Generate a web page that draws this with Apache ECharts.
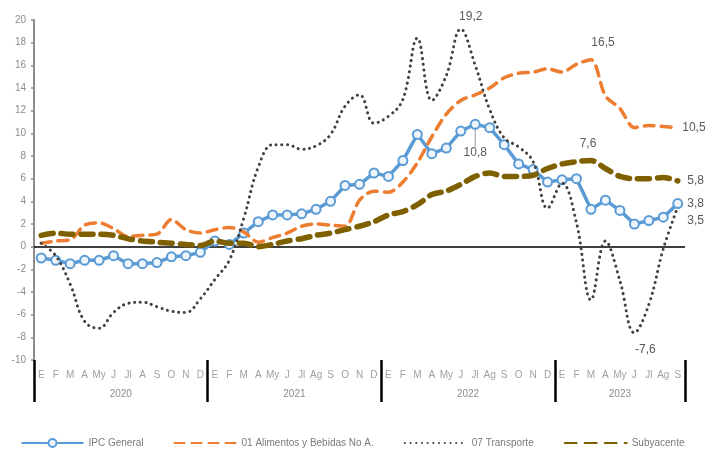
<!DOCTYPE html>
<html>
<head>
<meta charset="utf-8">
<title>IPC</title>
<script src="https://cdn.jsdelivr.net/npm/echarts@6/dist/echarts.min.js"></script>
<style>
  html, body { margin: 0; padding: 0; background: #fff; }
  #chart { width: 705px; height: 450px; }
</style>
</head>
<body>
<div id="chart"></div>
<script>
// meses por año (2020 usa "A" para agosto)
const months = [
  'E', 'F', 'M', 'A', 'My', 'J', 'Jl', 'A', 'S', 'O', 'N', 'D',
  'E', 'F', 'M', 'A', 'My', 'J', 'Jl', 'Ag', 'S', 'O', 'N', 'D',
  'E', 'F', 'M', 'A', 'My', 'J', 'Jl', 'Ag', 'S', 'O', 'N', 'D',
  'E', 'F', 'M', 'A', 'My', 'J', 'Jl', 'Ag', 'S'
]
const years = ['2020', '2021', '2022', '2023']
const monthsPerYear = [12, 12, 12, 9]

const yTicks = [-10, 20, 2] // min, max, intervalo

const ipcGeneral = [
  -1.0, -1.2, -1.5, -1.2, -1.2, -0.8, -1.5, -1.5, -1.4, -0.9, -0.8, -0.5,
  0.5, 0.2, 1.2, 2.2, 2.8, 2.8, 2.9, 3.3, 4.0, 5.4, 5.5, 6.5,
  6.2, 7.6, 9.9, 8.2, 8.7, 10.2, 10.8, 10.5, 9.0, 7.3, 6.8, 5.7,
  5.9, 6.0, 3.3, 4.1, 3.2, 2.0, 2.3, 2.6, 3.8
]
const alimentos = [
  0.3, 0.5, 0.6, 1.9, 2.1, 1.6, 0.9, 1.0, 1.1, 2.4, 1.5, 1.2,
  1.5, 1.7, 1.3, 0.4, 0.8, 1.2, 1.8, 2.0, 1.9, 1.8, 4.1, 4.9,
  4.8, 5.7, 7.4, 9.7, 11.7, 12.9, 13.4, 14.0, 14.9, 15.3, 15.4, 15.7,
  15.4, 16.1, 16.5, 13.3, 12.2, 10.5, 10.7, 10.6, 10.5
]
const transporte = [
  0.3, -0.8, -3.3, -6.6, -7.2, -5.8, -5.0, -4.9, -5.3, -5.7, -5.8, -4.6,
  -2.9, -1.2, 2.5, 7.0, 9.0, 9.0, 8.6, 8.9, 9.9, 12.4, 13.4, 10.9,
  11.5, 13.0, 18.4, 12.9, 15.1, 19.2, 16.0, 12.1, 9.6, 8.8, 7.5, 3.4,
  5.6, 2.1, -4.7, 0.5, -3.0, -7.6, -5.1, -0.2, 3.5
]
const subyacente = [
  1.0, 1.2, 1.1, 1.1, 1.1, 1.0, 0.7, 0.5, 0.4, 0.3, 0.2, 0.1,
  0.5, 0.3, 0.3, 0.0, 0.2, 0.5, 0.7, 1.0, 1.2, 1.5, 1.8, 2.2,
  2.8, 3.1, 3.7, 4.6, 4.9, 5.5, 6.2, 6.5, 6.2, 6.2, 6.3, 6.9,
  7.3, 7.5, 7.6, 6.9, 6.2, 6.0, 6.0, 6.1, 5.8
]

const FONT = 'Liberation Sans, Arial, sans-serif'

// limites y centros de cada año sobre un eje 0..45
let yearBounds = [0]
let yearCenters = []
for (let i = 0; i < monthsPerYear.length; i++) {
  let start = yearBounds[i]
  yearBounds.push(start + monthsPerYear[i])
  yearCenters.push(start + monthsPerYear[i] / 2)
}

function fmt(p) {
  return p.value.toFixed(1).replace('.', ',')
}

// solo algunos puntos llevan etiqueta; en las series sin marcador
// se pone un simbolo invisible para que la etiqueta se dibuje
function withLabels(values, marks, hiddenSymbol) {
  return values.map(function (v, i) {
    if (!marks[i]) return v
    let item = {
      value: v,
      label: Object.assign({
        show: true,
        formatter: fmt,
        color: '#595959',
        fontSize: 12,
        fontFamily: FONT
      }, marks[i])
    }
    if (hiddenSymbol) {
      item.symbol = 'circle'
      item.symbolSize = 1
      item.itemStyle = { color: 'rgba(0,0,0,0)', borderWidth: 0 }
    }
    return item
  })
}

const last = months.length - 1
const peakIpc = 30

let ipcData = withLabels(ipcGeneral, {
  [peakIpc]: { position: 'bottom', distance: 5 },
  [last]: { position: 'right', distance: 4, offset: [0, -2] }
}, false)
// linea guia solo para la etiqueta del maximo
ipcData[peakIpc].labelLine = {
  show: true,
  lineStyle: { color: '#a6a6a6', width: 1.2 }
}

const chart = echarts.init(document.getElementById('chart'))

const option = {
  animation: false,
  textStyle: {
    fontFamily: FONT
  },
  grid: {
    left: 34,
    right: 20,
    top: 20,
    bottom: 90,
    containLabel: false
  },
  legend: {
    top: 433,
    left: 'center',
    itemWidth: 62,
    itemHeight: 10,
    itemGap: 30,
    textStyle: {
      color: '#7a7a7a',
      fontSize: 10,
      fontFamily: FONT
    },
    data: [
      { name: 'IPC General' },
      { name: '01 Alimentos y Bebidas No A.', itemStyle: { opacity: 0 } },
      { name: '07 Transporte', itemStyle: { opacity: 0 } },
      { name: 'Subyacente', itemStyle: { opacity: 0 } }
    ]
  },
  xAxis: [
    {
      type: 'category',
      data: months,
      position: 'bottom',
      boundaryGap: true,
      axisLine: { show: false },
      axisTick: { show: false },
      axisLabel: {
        interval: 0,
        margin: 10,
        color: '#a0a0a0',
        fontSize: 10,
        fontFamily: FONT
      }
    },
    {
      // eje auxiliar de años: separadores y etiquetas centradas
      type: 'value',
      min: 0,
      max: months.length,
      position: 'bottom',
      axisLine: { show: false },
      splitLine: { show: false },
      axisTick: {
        show: true,
        customValues: yearBounds,
        length: 42,
        lineStyle: { color: '#000', width: 2.5 }
      },
      axisLabel: {
        customValues: yearCenters,
        margin: 29,
        color: '#8c8c8c',
        fontSize: 10,
        fontFamily: FONT,
        formatter: function (v) {
          return years[yearCenters.indexOf(v)]
        }
      }
    }
  ],
  yAxis: {
    type: 'value',
    min: yTicks[0],
    max: yTicks[1],
    interval: yTicks[2],
    axisLine: {
      show: true,
      onZero: false,
      lineStyle: { color: '#8c8c8c', width: 2 }
    },
    axisTick: {
      show: true,
      length: 3,
      lineStyle: { color: '#8c8c8c', width: 1.5 }
    },
    splitLine: { show: false },
    axisLabel: {
      margin: 8,
      color: '#8c8c8c',
      fontSize: 10,
      fontFamily: FONT
    }
  },
  series: [
    {
      name: 'IPC General',
      type: 'line',
      xAxisIndex: 0,
      data: ipcData,
      // la etiqueta del maximo se baja y se une con la linea guia
      labelLayout: function (p) {
        if (p.dataIndex === peakIpc) return { dy: 12 }
        return {}
      },
      symbol: 'circle',
      symbolSize: 9,
      showSymbol: true,
      itemStyle: {
        color: '#eef5fc',
        borderColor: '#5b9bd5',
        borderWidth: 2
      },
      lineStyle: { color: '#5b9bd5', width: 3.5 },
      color: '#5b9bd5',
      z: 2,
      markLine: {
        silent: true,
        symbol: 'none',
        label: { show: false },
        lineStyle: { color: '#000', width: 1.6, type: 'solid' },
        data: [{ yAxis: 0 }],
        z: 1
      }
    },
    {
      name: '01 Alimentos y Bebidas No A.',
      type: 'line',
      xAxisIndex: 0,
      data: withLabels(alimentos, {
        38: { position: 'top', distance: 8, offset: [12, -2] },
        [last]: { position: 'right', distance: 4 }
      }, true),
      smooth: 0.3,
      showSymbol: true,
      symbol: 'none',
      color: '#ed7d31',
      lineStyle: { color: '#ed7d31', width: 3.5, type: [10, 7], cap: 'round' },
      z: 3
    },
    {
      name: '07 Transporte',
      type: 'line',
      xAxisIndex: 0,
      data: withLabels(transporte, {
        29: { position: 'top', distance: 6, offset: [10, 0] },
        41: { position: 'bottom', distance: 10, offset: [11, 0] },
        [last]: { position: 'right', distance: 9, offset: [0, 14] }
      }, true),
      smooth: 0.4,
      showSymbol: true,
      symbol: 'none',
      color: '#404040',
      lineStyle: { color: '#404040', width: 3, type: [0.1, 5.6], cap: 'round' },
      z: 4
    },
    {
      name: 'Subyacente',
      type: 'line',
      xAxisIndex: 0,
      data: withLabels(subyacente, {
        38: { position: 'top', distance: 10, offset: [-3, 0] },
        [last]: { position: 'right', distance: 9 }
      }, true),
      smooth: 0.3,
      showSymbol: true,
      symbol: 'none',
      color: '#7f6000',
      lineStyle: { color: '#7f6000', width: 5.5, type: [12, 8], cap: 'round' },
      z: 5
    }
  ]
}

chart.setOption(option)
</script>
</body>
</html>
